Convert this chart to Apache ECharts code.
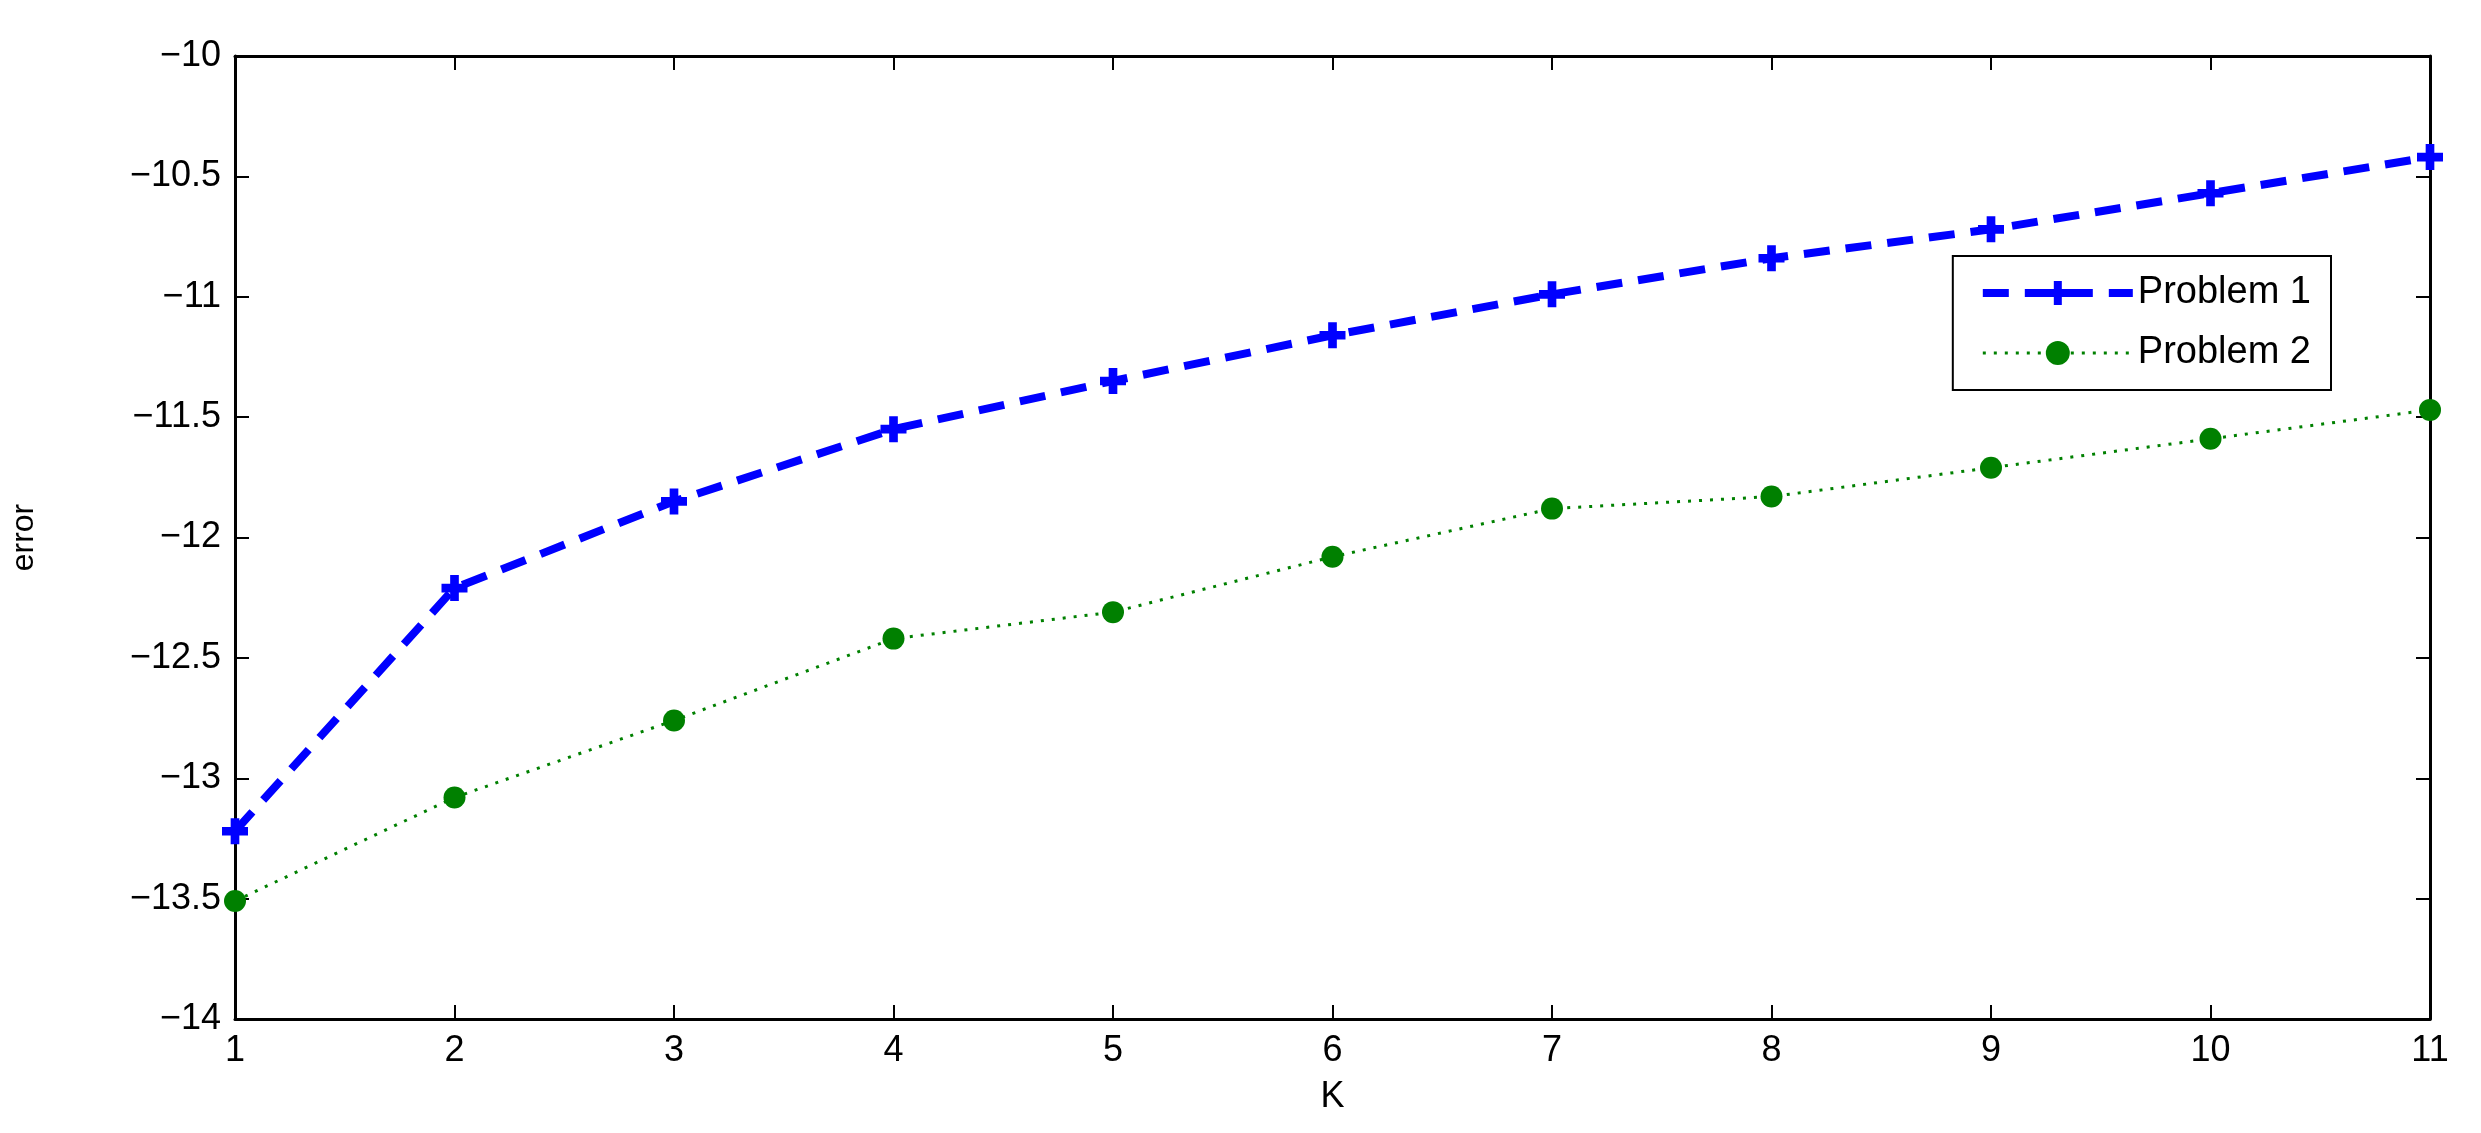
<!DOCTYPE html>
<html><head><meta charset="utf-8">
<script src="https://cdn.jsdelivr.net/npm/echarts@6/dist/echarts.min.js"></script>
<style>html,body{margin:0;background:#fff}#main{width:2481px;height:1133px}</style>
</head><body><div id="main"></div>
<script>
var kValues = [1, 2, 3, 4, 5, 6, 7, 8, 9, 10, 11];
var problem1 = [-13.22, -12.21, -11.85, -11.55, -11.35, -11.16, -10.99, -10.84, -10.72, -10.57, -10.42];
var problem2 = [-13.51, -13.08, -12.76, -12.42, -12.31, -12.08, -11.88, -11.83, -11.71, -11.59, -11.47];

function pairs(ys){ return kValues.map(function(k,i){ return [k, ys[i]]; }); }
function minus(v){ return String(v).replace('-', '\u2212'); }

var myChart = echarts.init(document.getElementById('main'));
var font = 'Liberation Sans';
var axisCommon = {
  axisLine: {show: true, onZero: false, lineStyle: {color: '#000', width: 3}},
  axisTick: {show: true, inside: true, length: 14, lineStyle: {color: '#000', width: 2}},
  splitLine: {show: false}
};
var dash1 = [26, 16], dot2 = [3, 8];
var opt = {
  animation: false,
  textStyle: {fontFamily: font},
  grid: {left: 235, right: 51, top: 56, bottom: 114},
  legend: {
    right: 150, top: 256, orient: 'vertical',
    backgroundColor: '#fff', borderColor: '#000', borderWidth: 2,
    padding: [18, 20, 18, 26], itemGap: 22, itemWidth: 150, itemHeight: 30,
    textStyle: {fontSize: 38, fontFamily: font, color: '#000'},
    data: [
      {name: 'Problem 1', lineStyle: {width: 8, type: dash1}},
      {name: 'Problem 2', lineStyle: {width: 3, type: dot2}}
    ]
  },
  xAxis: [
    Object.assign({type: 'value', min: 1, max: 11, interval: 1, position: 'bottom',
      name: 'K', nameLocation: 'middle', nameGap: 60,
      nameTextStyle: {fontSize: 36, color: '#000'},
      axisLabel: {fontSize: 36, color: '#000', margin: 14}}, axisCommon),
    Object.assign({type: 'value', min: 1, max: 11, interval: 1, position: 'top',
      axisLabel: {show: false}}, axisCommon)
  ],
  yAxis: [
    Object.assign({type: 'value', min: -14, max: -10, interval: 0.5, position: 'left',
      name: 'error', nameLocation: 'middle', nameGap: 195,
      nameTextStyle: {fontSize: 32, color: '#000'},
      axisLabel: {fontSize: 36, color: '#000', margin: 14, formatter: minus}}, axisCommon),
    Object.assign({type: 'value', min: -14, max: -10, interval: 0.5, position: 'right',
      axisLabel: {show: false}}, axisCommon)
  ],
  series: [
    {name: 'Problem 1', type: 'line', data: pairs(problem1),
     symbol: 'path://M-1,-3H1V-1H3V1H1V3H-1V1H-3V-1H-1Z', symbolSize: 26,
     itemStyle: {color: '#0000ff'},
     lineStyle: {color: '#0000ff', width: 8, type: dash1}},
    {name: 'Problem 2', type: 'line', data: pairs(problem2),
     symbol: 'circle', symbolSize: 22,
     itemStyle: {color: '#008000'},
     lineStyle: {color: '#008000', width: 3, type: dot2}}
  ]
};
myChart.setOption(opt);
</script></body></html>
